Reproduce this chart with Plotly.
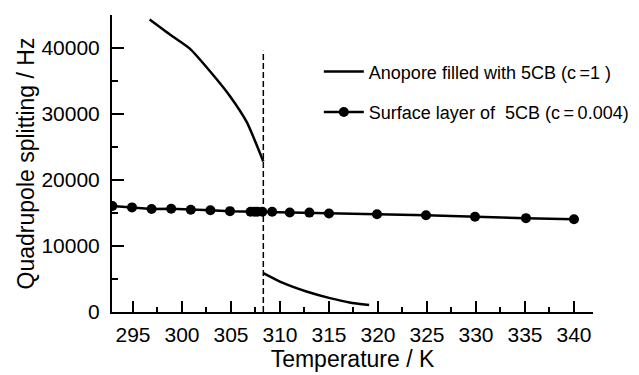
import plotly.graph_objects as go

# Anopore filled with 5CB (c=1): nematic branch and isotropic branch
anopore_T_low = [296.7, 298.8, 300.8, 302.9, 304.9, 306.6, 308.3]
anopore_Q_low = [44300, 42000, 39900, 36400, 32700, 28800, 22800]
anopore_T_high = [308.3, 310.3, 312.7, 315.1, 317.1, 319.1]
anopore_Q_high = [5900, 4400, 3100, 2100, 1450, 1070]

# Surface layer of 5CB (c=0.004)
surface_T = [292.9, 294.9, 296.9, 298.9, 300.9, 302.9, 304.9, 307.0, 307.4, 307.7,
             308.2, 309.2, 311.0, 313.0, 315.0, 319.9, 324.9, 329.9, 335.1, 340.0]
surface_Q = [16050, 15850, 15600, 15650, 15480, 15420, 15280, 15200, 15200, 15200,
             15200, 15200, 15080, 15060, 14920, 14820, 14660, 14420, 14220, 14050]

# Nematic-isotropic transition marker
transition_T = [308.3, 308.3]
transition_Q = [0, 39600]

x_range = [292.86, 341.94]
y_range = [0, 45000]
x_ticks = [295, 300, 305, 310, 315, 320, 325, 330, 335, 340]
y_ticks = [0, 10000, 20000, 30000, 40000]

FONT = "Liberation Sans"

fig = go.Figure()

fig.add_trace(go.Scatter(
    x=transition_T, y=transition_Q, mode="lines",
    line=dict(color="black", width=1.5, dash="6px,3px"),
    showlegend=False, hoverinfo="skip"))

fig.add_trace(go.Scatter(
    x=anopore_T_low + [None] + anopore_T_high,
    y=anopore_Q_low + [None] + anopore_Q_high,
    mode="lines", line=dict(color="black", width=2.5, shape="spline", smoothing=0.6),
    connectgaps=False,
    name="Anopore filled with 5CB (c\u2009=1 )", legendgroup="a"))

fig.add_trace(go.Scatter(
    x=surface_T, y=surface_Q, mode="lines+markers",
    line=dict(color="black", width=2.5),
    marker=dict(color="black", size=10),
    name="Surface layer of  5CB (c\u2009=\u20090.004)", legendgroup="b"))

# page body has an 8px default margin (top/left), so the figure is 8px smaller
fig.update_layout(
    width=631, height=367,
    margin=dict(l=104, r=46, t=7, b=63, autoexpand=False),
    paper_bgcolor="white", plot_bgcolor="white",
    font=dict(family=FONT, size=19, color="black"),
    legend=dict(x=0.43, y=0.871, xanchor="left", yanchor="top",
                font=dict(size=18), tracegroupgap=14, itemwidth=40,
                bgcolor="rgba(0,0,0,0)"),
)

fig.update_xaxes(
    range=x_range, tickvals=x_ticks, tickformat="d", ticks="inside", ticklen=11, tickwidth=2,
    tickcolor="black", showline=True, linecolor="black", linewidth=2,
    showgrid=False, zeroline=False,
    minor=dict(dtick=2.5, tick0=295, ticks="inside", ticklen=5, tickwidth=2, tickcolor="black"),
    tickfont=dict(size=21), ticklabelstandoff=3,
    title=dict(text="Temperature / K", font=dict(size=23), standoff=2))

fig.update_yaxes(
    range=y_range, tickvals=y_ticks, tickformat="d", ticks="inside", ticklen=12, tickwidth=2,
    tickcolor="black", showline=True, linecolor="black", linewidth=2,
    showgrid=False, zeroline=False,
    minor=dict(dtick=5000, tick0=0, ticks="inside", ticklen=6, tickwidth=2, tickcolor="black"),
    tickfont=dict(size=21), ticklabelstandoff=6,
    title=dict(text="Quadrupole splitting / Hz", font=dict(size=23), standoff=0))

fig.write_html("out.html")
